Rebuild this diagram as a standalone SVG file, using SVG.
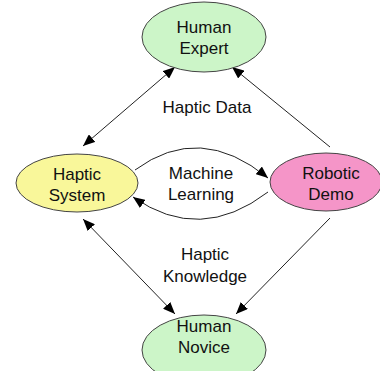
<svg xmlns="http://www.w3.org/2000/svg" width="380" height="371" viewBox="0 0 380 371">
  <defs>
    <marker id="arrow" viewBox="0 0 12 10" refX="12" refY="5" markerWidth="12" markerHeight="10" markerUnits="userSpaceOnUse" orient="auto-start-reverse">
      <path d="M0,0 L12,5 L0,10 Z" fill="#000"/>
    </marker>
    <style>
      .node { stroke: #444; stroke-width: 1; }
      .human { fill: #ccf5c8; }
      .haptic { fill: #f9f79a; }
      .robot { fill: #f595c8; }
      .edge { fill: none; stroke: #222; stroke-width: 1; }
      text { font-family: "Liberation Sans", Arial, sans-serif; font-size: 17px; fill: #111; text-anchor: middle; }
    </style>
  </defs>
  <rect width="380" height="371" fill="#fff"/>

  <g id="connectors">
    <line class="edge" x1="83" y1="146" x2="175" y2="67" marker-start="url(#arrow)" marker-end="url(#arrow)"/>
    <line class="edge" x1="330" y1="147" x2="232" y2="67" marker-end="url(#arrow)"/>
    <line class="edge" x1="83" y1="219" x2="175" y2="314" marker-start="url(#arrow)" marker-end="url(#arrow)"/>
    <line class="edge" x1="330" y1="218" x2="236" y2="314" marker-end="url(#arrow)"/>
    <path class="edge" d="M135,170 Q200,122 268,178" marker-end="url(#arrow)"/>
    <path class="edge" d="M268,192 Q200,244 133,197" marker-end="url(#arrow)"/>
  </g>

  <g id="human-expert">
    <ellipse class="node human" cx="204" cy="37" rx="62" ry="35"/>
    <text x="204" y="32.5">Human</text>
    <text x="204" y="53.5">Expert</text>
  </g>

  <g id="haptic-system">
    <ellipse class="node haptic" cx="77" cy="183" rx="61" ry="29"/>
    <text x="77" y="180">Haptic</text>
    <text x="77" y="201">System</text>
  </g>

  <g id="robotic-demo">
    <ellipse class="node robot" cx="326" cy="182" rx="56" ry="29"/>
    <text x="331" y="179">Robotic</text>
    <text x="331" y="200">Demo</text>
  </g>

  <g id="human-novice">
    <ellipse class="node human" cx="204" cy="350" rx="62" ry="35"/>
    <text x="204" y="332">Human</text>
    <text x="204" y="353">Novice</text>
  </g>

  <g id="labels">
    <text x="207" y="113">Haptic Data</text>
    <text x="201" y="179">Machine</text>
    <text x="201" y="200">Learning</text>
    <text x="205" y="260">Haptic</text>
    <text x="205" y="282">Knowledge</text>
  </g>
</svg>
